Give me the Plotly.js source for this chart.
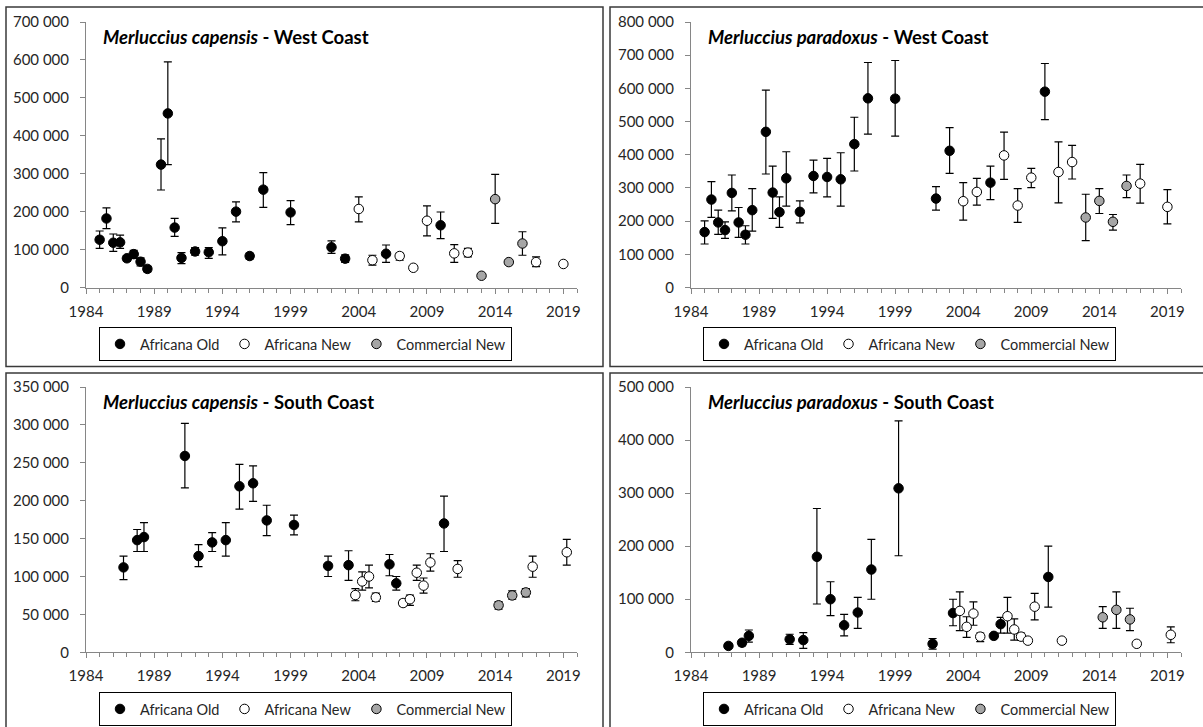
<!DOCTYPE html>
<html>
<head>
<meta charset="utf-8">
<script src="https://cdn.plot.ly/plotly-3.0.1.min.js"></script>
<style>
  html, body { margin: 0; padding: 0; background: #fff; }
  #chart { width: 1203px; height: 727px; }
</style>
</head>
<body>
<div id="chart"></div>
<script>
// ---------- Data ----------
// Panel 1: Merluccius capensis - West Coast
const capWC_old_x  = [1985, 1985.5, 1986, 1986.5, 1987, 1987.5, 1988, 1988.5, 1989.5, 1990, 1990.5, 1991, 1992, 1993, 1994, 1995, 1996, 1997, 1999, 2002, 2003, 2006, 2010];
const capWC_old_y  = [126000, 182000, 118000, 119000, 77000, 88000, 68000, 49000, 324000, 459000, 158000, 78000, 95000, 93000, 122000, 200000, 83000, 258000, 198000, 106000, 76000, 89000, 164000];
const capWC_old_hi = [149000, 210000, 141000, 138000, 84000, 98000, 78000, 56000, 392000, 595000, 182000, 92000, 105000, 105000, 157000, 226000, 91000, 303000, 229000, 123000, 86000, 112000, 199000];
const capWC_old_lo = [103000, 155000, 95000, 103000, 69000, 77000, 57000, 41000, 257000, 324000, 135000, 63000, 85000, 77000, 86000, 173000, 75000, 211000, 166000, 90000, 66000, 66000, 129000];
const capWC_new_x  = [2004, 2005, 2007, 2008, 2009, 2011, 2012, 2017, 2019];
const capWC_new_y  = [207000, 72000, 83000, 52000, 176000, 90000, 92000, 67000, 62000];
const capWC_new_hi = [239000, 85000, 91000, 55000, 215000, 113000, 103000, 81000, 65000];
const capWC_new_lo = [173000, 59000, 72000, 49000, 136000, 66000, 81000, 55000, 59000];
const capWC_com_x  = [2013, 2014, 2015, 2016];
const capWC_com_y  = [31000, 233000, 67000, 116000];
const capWC_com_hi = [34000, 298000, 72000, 147000];
const capWC_com_lo = [28000, 169000, 60000, 85000];

// Panel 2: Merluccius paradoxus - West Coast
const parWC_old_x  = [1985, 1985.5, 1986, 1986.5, 1987, 1987.5, 1988, 1988.5, 1989.5, 1990, 1990.5, 1991, 1992, 1993, 1994, 1995, 1996, 1997, 1999, 2002, 2003, 2006, 2010];
const parWC_old_y  = [167000, 265000, 196000, 173000, 285000, 196000, 159000, 233000, 469000, 286000, 227000, 329000, 228000, 336000, 333000, 326000, 432000, 570000, 569000, 268000, 412000, 316000, 590000];
const parWC_old_hi = [201000, 319000, 233000, 198000, 339000, 241000, 186000, 298000, 595000, 366000, 273000, 409000, 261000, 384000, 389000, 406000, 513000, 678000, 684000, 304000, 482000, 366000, 675000];
const parWC_old_lo = [131000, 211000, 160000, 148000, 231000, 151000, 131000, 170000, 342000, 208000, 181000, 245000, 195000, 285000, 273000, 245000, 351000, 462000, 456000, 233000, 344000, 265000, 506000];
const parWC_new_x  = [2004, 2005, 2007, 2008, 2009, 2011, 2012, 2017, 2019];
const parWC_new_y  = [260000, 288000, 398000, 247000, 331000, 348000, 378000, 313000, 243000];
const parWC_new_hi = [316000, 329000, 468000, 298000, 359000, 439000, 428000, 371000, 295000];
const parWC_new_lo = [203000, 248000, 326000, 196000, 301000, 255000, 327000, 254000, 192000];
const parWC_com_x  = [2013, 2014, 2015, 2016];
const parWC_com_y  = [211000, 261000, 198000, 306000];
const parWC_com_hi = [281000, 298000, 220000, 339000];
const parWC_com_lo = [141000, 223000, 173000, 271000];

// Panel 3: Merluccius capensis - South Coast
const capSC_old_x  = [1986.75, 1987.75, 1988.25, 1991.25, 1992.25, 1993.25, 1994.25, 1995.25, 1996.25, 1997.25, 1999.25, 2001.75, 2003.25, 2006.25, 2006.75, 2010.25];
const capSC_old_y  = [112000, 148000, 152000, 259000, 127000, 145000, 148000, 219000, 223000, 174000, 168000, 114000, 115000, 116000, 91000, 170000];
const capSC_old_hi = [127000, 162000, 171000, 302000, 142000, 158000, 171000, 248000, 246000, 194000, 181000, 127000, 134000, 129000, 100000, 206000];
const capSC_old_lo = [96000, 133000, 133000, 217000, 113000, 133000, 127000, 189000, 199000, 154000, 155000, 100000, 95000, 101000, 82000, 133000];
const capSC_new_x  = [2003.75, 2004.25, 2004.75, 2005.25, 2007.25, 2007.75, 2008.25, 2008.75, 2009.25, 2011.25, 2016.75, 2019.25];
const capSC_new_y  = [75500, 93500, 100000, 72500, 65000, 70000, 105000, 88000, 118500, 110000, 113000, 132000];
const capSC_new_hi = [84000, 106000, 115000, 78000, 69000, 75500, 115000, 98000, 130000, 121000, 127000, 149000];
const capSC_new_lo = [68000, 82000, 85000, 67000, 61000, 62000, 95000, 78000, 107000, 99000, 99000, 115000];
const capSC_com_x  = [2014.25, 2015.25, 2016.25];
const capSC_com_y  = [62000, 75000, 79000];
const capSC_com_hi = [67000, 81000, 84000];
const capSC_com_lo = [57000, 70000, 73000];

// Panel 4: Merluccius paradoxus - South Coast
const parSC_old_x  = [1986.75, 1987.75, 1988.25, 1991.25, 1992.25, 1993.25, 1994.25, 1995.25, 1996.25, 1997.25, 1999.25, 2001.75, 2003.25, 2006.25, 2006.75, 2010.25];
const parSC_old_y  = [12000, 18000, 31000, 24500, 23000, 180000, 100000, 51000, 75000, 156000, 309000, 16000, 74000, 31000, 53000, 142000];
const parSC_old_hi = [14000, 23000, 42000, 34000, 37000, 271000, 133000, 71500, 103500, 213000, 436000, 26000, 100000, 34000, 66000, 200000];
const parSC_old_lo = [10000, 12000, 19000, 15000, 7500, 91000, 69000, 31000, 45000, 100000, 182000, 6000, 50000, 28000, 36000, 85000];
const parSC_new_x  = [2003.75, 2004.25, 2004.75, 2005.25, 2007.25, 2007.75, 2008.25, 2008.75, 2009.25, 2011.25, 2016.75, 2019.25];
const parSC_new_y  = [78000, 48000, 73000, 29500, 68000, 43000, 29500, 22000, 86000, 22000, 16000, 33000];
const parSC_new_hi = [114000, 67000, 95000, 36000, 103500, 63000, 36000, 25000, 111000, 25000, 18000, 48000];
const parSC_new_lo = [41000, 28000, 51000, 20000, 36000, 23000, 23000, 19000, 61000, 19000, 14000, 18000];
const parSC_com_x  = [2014.25, 2015.25, 2016.25];
const parSC_com_y  = [66000, 80000, 62000];
const parSC_com_hi = [86000, 114000, 83000];
const parSC_com_lo = [45000, 45000, 41000];

const seriesNames = ['Africana Old', 'Africana New', 'Commercial New'];
const panelTitles = [
  ['Merluccius capensis', 'West Coast'],
  ['Merluccius paradoxus', 'West Coast'],
  ['Merluccius capensis', 'South Coast'],
  ['Merluccius paradoxus', 'South Coast']
];
const yMax   = [700000, 800000, 350000, 500000];
const yDtick = [100000, 100000, 50000, 100000];
const xRange = [1984, 2020];

// ---------- Layout geometry (pixels) ----------
const W = 1203, H = 727;
const px = v => v / W;
const py = v => 1 - v / H;
const FONT = 'Lato, "Open Sans", sans-serif';
const TXT = '#262626';
const AXC = '#868686';

const panels = [
  { plot: [86, 577, 22, 287.5],  title: [101, 37],  legend: [99, 327],  data: [[capWC_old_x, capWC_old_y, capWC_old_hi, capWC_old_lo], [capWC_new_x, capWC_new_y, capWC_new_hi, capWC_new_lo], [capWC_com_x, capWC_com_y, capWC_com_hi, capWC_com_lo]] },
  { plot: [691, 1181, 22, 287.5], title: [706, 37],  legend: [703, 327], data: [[parWC_old_x, parWC_old_y, parWC_old_hi, parWC_old_lo], [parWC_new_x, parWC_new_y, parWC_new_hi, parWC_new_lo], [parWC_com_x, parWC_com_y, parWC_com_hi, parWC_com_lo]] },
  { plot: [86, 577, 387, 652.3],  title: [101, 402], legend: [99, 692],  data: [[capSC_old_x, capSC_old_y, capSC_old_hi, capSC_old_lo], [capSC_new_x, capSC_new_y, capSC_new_hi, capSC_new_lo], [capSC_com_x, capSC_com_y, capSC_com_hi, capSC_com_lo]] },
  { plot: [691, 1181, 387, 652.3], title: [706, 402], legend: [703, 692], data: [[parSC_old_x, parSC_old_y, parSC_old_hi, parSC_old_lo], [parSC_new_x, parSC_new_y, parSC_new_hi, parSC_new_lo], [parSC_com_x, parSC_com_y, parSC_com_hi, parSC_com_lo]] }
];
const boxes = [[6, 603, 7, 366.5], [610, 1215, 7, 366.5], [6, 603, 373, 740], [610, 1215, 373, 740]];

const fills = ['#000000', '#ffffff', '#a6a6a6'];

const traces = [];
const layout = {
  width: W, height: H,
  margin: { l: 0, r: 0, t: 0, b: 0 },
  paper_bgcolor: '#ffffff', plot_bgcolor: 'rgba(0,0,0,0)',
  separators: '. ',
  font: { family: FONT, size: 15, color: TXT },
  showlegend: true,
  annotations: [], shapes: []
};

panels.forEach((p, i) => {
  const n = i + 1;
  const xa = 'xaxis' + (n === 1 ? '' : n), ya = 'yaxis' + (n === 1 ? '' : n);
  const xr = 'x' + (n === 1 ? '' : n), yr = 'y' + (n === 1 ? '' : n);
  const lg = 'legend' + (n === 1 ? '' : n);

  p.data.forEach((s, k) => {
    const [xs, ys, hi, lo] = s;
    traces.push({
      type: 'scatter', mode: 'markers',
      x: xs, y: ys, xaxis: xr, yaxis: yr, legend: lg,
      name: seriesNames[k],
      marker: { symbol: 'circle', size: 9.5, color: fills[k], line: { color: '#000000', width: 1 } },
      error_y: {
        type: 'data', symmetric: false,
        array: hi.map((h, j) => h - ys[j]),
        arrayminus: lo.map((l, j) => ys[j] - l),
        color: '#000000', thickness: 1.2, width: 4
      },
      hoverinfo: 'x+y'
    });
  });

  layout[xa] = {
    domain: [px(p.plot[0]), px(p.plot[1])], anchor: yr,
    range: xRange, tick0: 1984, dtick: 5, ticks: 'outside', ticklen: 5, tickcolor: AXC, tickwidth: 1,
    minor: { dtick: 1, tick0: 1984, ticks: 'outside', ticklen: 4, tickcolor: AXC, tickwidth: 1 },
    showline: true, linecolor: AXC, linewidth: 1, showgrid: false, zeroline: false,
    tickfont: { family: FONT, size: 15, color: TXT }, ticklabelstandoff: 5, fixedrange: true
  };
  layout[ya] = {
    domain: [py(p.plot[3]), py(p.plot[2])], anchor: xr,
    range: [0, yMax[i]], dtick: yDtick[i], tick0: 0, tickformat: ',d',
    ticks: 'outside', ticklen: 5, tickcolor: AXC, tickwidth: 1,
    showline: true, linecolor: AXC, linewidth: 1, showgrid: false, zeroline: false,
    tickfont: { family: FONT, size: 15, color: TXT }, ticklabelstandoff: 8, fixedrange: true
  };
  layout[lg] = {
    x: px(p.legend[0]), y: py(p.legend[1]), xanchor: 'left', yanchor: 'top', xref: 'paper', yref: 'paper',
    orientation: 'h', bgcolor: '#ffffff', bordercolor: '#000000', borderwidth: 1,
    font: { family: FONT, size: 14.5, color: TXT }, itemclick: false, itemdoubleclick: false
  };
  layout.annotations.push({
    xref: 'paper', yref: 'paper', x: px(p.title[0]), y: py(p.title[1]),
    xanchor: 'left', yanchor: 'middle', showarrow: false,
    text: '<b><i>' + panelTitles[i][0] + '</i> - ' + panelTitles[i][1] + '</b>',
    font: { family: FONT, size: 18.5, color: '#000000' }
  });
  const b = boxes[i];
  layout.shapes.push({
    type: 'rect', xref: 'paper', yref: 'paper',
    x0: px(b[0]), x1: px(b[1]), y0: py(b[3]), y1: py(b[2]),
    line: { color: '#3a3a3a', width: 1.5 }, fillcolor: 'rgba(0,0,0,0)', layer: 'below'
  });
});

Plotly.newPlot('chart', traces, layout, { displayModeBar: false, staticPlot: false });
</script>
</body>
</html>
